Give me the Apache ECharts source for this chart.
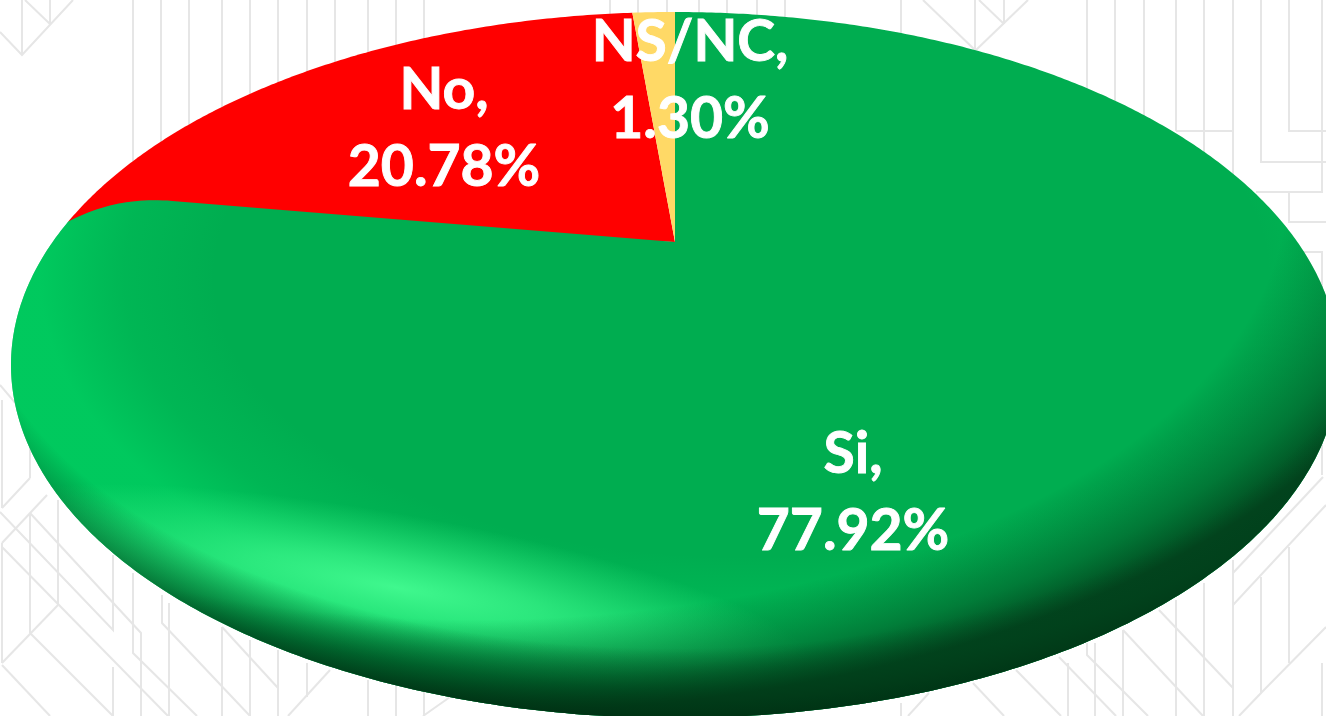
<!DOCTYPE html>
<html><head><meta charset="utf-8">
<style>html,body{margin:0;padding:0;background:#fff}#c{width:1326px;height:716px}</style>
<script src="https://cdn.jsdelivr.net/npm/echarts@6/dist/echarts.min.js"></script>
</head><body><div id="c"></div>
<script>
const categories = ['Si', 'No', 'NS/NC'];
const shares = [77.92, 20.78, 1.30];
const sliceColors = ['#00AD50', '#FF0000', '#FFD966'];
const labelCenters = [[853, 493], [444, 129], [690, 81]];

// Faint decorative backdrop of the slide
const backdrop = [
 [[0,32],[22,55],[73,0]],[[22,0],[22,55]],[[25,0],[50,24]],[[50,0],[50,24]],
 [[133,0],[133,180]],[[161,0],[161,180]],[[189,0],[189,180]],[[222,0],[222,180]],[[250,0],[250,180]],[[278,0],[278,180]],
 [[307,0],[307,180]],[[335,0],[335,180]],[[368,0],[368,180]],[[396,0],[396,180]],[[424,0],[424,180]],
 [[610,0],[610,40]],[[638,0],[638,40]],[[667,0],[667,40]],[[699,0],[699,40]],[[727,0],[727,40]],[[757,0],[757,40]],[[785,0],[785,40]],
 [[901,0],[901,60]],[[975,0],[975,60]],[[1004,0],[1004,24]],[[923,0],[975,50]],[[976,50],[1028,0]],[[979,0],[1004,24]],
 [[1087,0],[1087,120]],[[1115,0],[1115,120]],[[1144,0],[1144,140]],[[1176,0],[1176,131]],[[1204,0],[1204,160]],[[1233,0],[1233,180]],
 [[1176,131],[1233,131]],[[1261,0],[1261,162],[1326,162]],[[1289,0],[1289,131],[1326,131]],[[1322,0],[1322,192],[1256,192]],
 [[1289,192],[1289,222]],[[1288,222],[1326,222]],[[1303,252],[1322,252],[1322,300]],
 [[2,400],[2,508]],[[30,400],[30,478]],[[30,478],[2,508]],[[0,385],[28,418]],
 [[0,512],[113,630],[113,555]],[[30,513],[141,633],[141,716]],[[2,543],[47,495]],[[30,513],[30,633]],[[58,500],[58,605]],[[2,543],[2,663]],
 [[2,547],[168,716]],[[58,605],[2,663]],[[30,633],[113,716]],[[2,665],[50,716]],[[113,667],[113,716]],
 [[133,573],[133,653],[197,716]],[[162,595],[162,623],[250,716]],[[169,603],[169,716]],
 [[222,627],[222,716]],[[222,627],[278,688]],[[250,640],[250,716]],[[278,650],[278,716]],[[307,663],[307,697]],[[330,670],[288,716]],
 [[368,680],[368,716]],[[396,680],[396,716]],[[424,680],[424,716]],[[450,697],[423,716]],
 [[901,703],[901,716]],[[929,693],[908,716]],[[973,683],[1004,716]],[[1016,670],[1061,716]],[[1059,657],[1116,716]],[[1068,663],[1068,716]],
 [[1087,643],[1087,655],[1148,716]],[[1095,643],[1095,716]],[[1123,630],[1123,716]],[[1123,630],[1203,716]],[[1176,600],[1176,716]],
 [[1159,610],[1233,688]],[[1204,583],[1204,716]],[[1233,560],[1233,716]],[[1233,573],[1323,477]],[[1233,605],[1326,505]],
 [[1261,577],[1261,693],[1239,716]],[[1261,693],[1326,627]],[[1289,547],[1289,663]],[[1322,443],[1322,475]],[[1322,663],[1322,716]]
];

// Tilted disc geometry: outline ellipse, off-centre pie apex, foreshortening
const OUT = {cx: 675, cy: 365, rx: 664, ry: 353};
const APEX = {x: 675, y: 242};
const TILT = 0.44;
const BEVEL_DEG = 6.2, BEVEL_FROM = 0.865;
const U = 1000; // local units of the unit disc

const apexLocal = [(APEX.x - OUT.cx) / OUT.rx * U, (APEX.y - OUT.cy) / OUT.ry * U];
function rim(deg) {
  const t = deg * Math.PI / 180;
  let dx = Math.sin(t) / OUT.rx, dy = -Math.cos(t) * TILT / OUT.ry;
  const n = Math.hypot(dx, dy); dx /= n; dy /= n;
  const b = apexLocal[0] * dx + apexLocal[1] * dy;
  const c = apexLocal[0] * apexLocal[0] + apexLocal[1] * apexLocal[1] - U * U;
  const k = -b + Math.sqrt(b * b - c);
  return [apexLocal[0] + dx * k, apexLocal[1] + dy * k];
}
function lerp(a, b, f) { return [a[0] + (b[0] - a[0]) * f, a[1] + (b[1] - a[1]) * f]; }
function arc(a0, a1) {
  const pts = [], n = Math.max(2, Math.ceil(Math.abs(a1 - a0) / 0.5));
  for (let i = 0; i <= n; i++) pts.push(rim(a0 + (a1 - a0) * i / n));
  return pts;
}
function radial(x, y, r, stops) {
  return {type: 'radial', x: x * U, y: y * U, r: r * U, global: true,
    colorStops: stops.map(s => ({offset: s[0], color: s[1]}))};
}
// Pillow shading of the large slice, bottom layer first.
const ring = radial(0.1, -0.25, 1.2, [[0.66,'rgba(0,215,100,0)'],[0.775,'rgba(0,215,100,0.22)'],[0.88,'rgba(0,218,102,0.62)'],[1,'rgba(0,218,102,0.62)']]);
const highlight = {x: -0.42, y: 0.63, a: 0.66, b: 0.2, phi: 20 * Math.PI / 180,
  stops: [[0,'rgba(64,248,142,1)'],[0.35,'rgba(60,245,138,0.72)'],[1,'rgba(50,240,130,0)']]};
const dark = radial(-0.3, -0.5, 1.65, [[0.74,'rgba(2,70,30,0)'],[0.84,'rgba(2,70,30,0.55)'],[0.90,'rgba(2,70,30,1)'],[1,'rgba(2,70,30,1)']]);
const edge = radial(0, -0.25, 1.3, [[0.81,'rgba(0,55,25,0)'],[0.88,'rgba(0,60,25,0.45)'],[0.96,'rgba(0,50,20,0.95)'],[1,'rgba(0,50,20,0.98)']]);

function renderItem(params, api) {
  const i = params.dataIndex;
  let start = 0;
  for (let k = 0; k < i; k++) start += shares[k];
  const a0 = start * 3.6, a1 = (start + api.value(0)) * 3.6;
  let pts;
  if (i === 0) {
    const end = rim(a1), knee = lerp(apexLocal, end, BEVEL_FROM), tip = rim(a1 - BEVEL_DEG);
    pts = [apexLocal].concat(arc(a0, a1 - BEVEL_DEG));
    const ctrl = lerp(knee, end, 0.72);
    for (let s = 1; s <= 24; s++) {
      const u = s / 24, w = 1 - u;
      pts.push([w*w*tip[0] + 2*u*w*ctrl[0] + u*u*knee[0], w*w*tip[1] + 2*u*w*ctrl[1] + u*u*knee[1]]);
    }
  } else {
    pts = [apexLocal].concat(arc(i === 1 ? a0 - BEVEL_DEG : a0, a1));
  }
  const layers = [{type: 'polygon', shape: {points: pts}, style: {fill: sliceColors[i]}, z2: i === 0 ? 5 : 1}];
  if (i === 0) {
    layers.push({type: 'polygon', shape: {points: pts}, style: {fill: ring}, z2: 6});
    // Elongated highlight: the slice outline is re-expressed in the gradient's own stretched frame
    const h = highlight, c = Math.cos(h.phi), sn = Math.sin(h.phi);
    const hp = pts.map(p => {
      const dx = p[0] - h.x * U, dy = p[1] - h.y * U;
      return [(c * dx + sn * dy) / h.a, (-sn * dx + c * dy) / h.b];
    });
    layers.push({type: 'polygon', x: h.x * U, y: h.y * U, rotation: -h.phi, scaleX: h.a, scaleY: h.b,
      shape: {points: hp}, style: {fill: radial(0, 0, 1, h.stops)}, z2: 7});
    layers.push({type: 'polygon', shape: {points: pts}, style: {fill: dark}, z2: 8});
    layers.push({type: 'polygon', shape: {points: pts}, style: {fill: edge}, z2: 9});
  }
  return {type: 'group', children: [
    {type: 'group', x: OUT.cx, y: OUT.cy, scaleX: OUT.rx / U, scaleY: OUT.ry / U, children: layers},
    {type: 'text', z2: 50, style: {
      x: labelCenters[i][0], y: labelCenters[i][1], text: categories[i] + ',\n' + api.value(0).toFixed(2) + '%',
      fill: '#fff', stroke: '#fff', lineWidth: 0.9, fontFamily: 'Lato', fontWeight: 'bold', fontSize: 57, lineHeight: 77, align: 'center', verticalAlign: 'middle'
    }}
  ]};
}

const chart = echarts.init(document.getElementById('c'), null, {renderer: 'canvas'});
chart.setOption({
  animation: false,
  backgroundColor: '#fff',
  graphic: backdrop.map(p => ({type: 'polyline', silent: true, z: 0, shape: {points: p}, style: {stroke: '#e6e6e6', lineWidth: 2, fill: null}})),
  series: [{
    type: 'custom', coordinateSystem: 'none', silent: true, z: 2,
    data: categories.map((c, i) => ({name: c, value: [shares[i]]})),
    renderItem: renderItem
  }]
});
</script></body></html>
